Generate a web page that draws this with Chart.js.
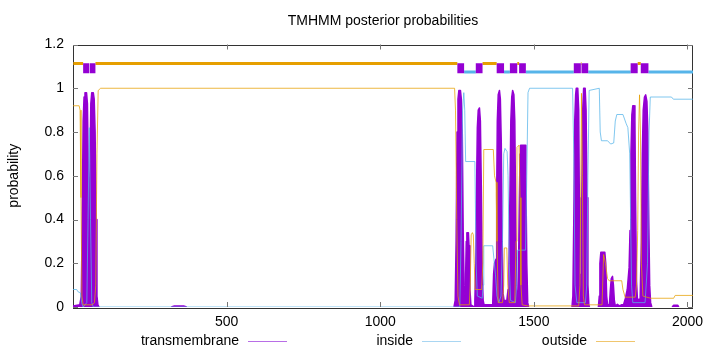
<!DOCTYPE html>
<html>
<head>
<meta charset="utf-8">
<script src="https://cdn.jsdelivr.net/npm/chart.js@4/dist/chart.umd.min.js"></script>
<style>
  html, body { margin: 0; padding: 0; background: #fff; }
  canvas { display: block; }
</style>
</head>
<body>
<canvas id="chart" width="720" height="352"></canvas>
<script>
"use strict";

const SEQ_LEN = 2018;

// Posterior probabilities (residue position -> probability).
const tmPos = [0, 22, 27, 30, 33, 36, 39, 44, 47, 50, 53, 55, 58, 61, 66, 69, 72, 75, 78, 81, 85,
  320, 330, 360, 370,
  1240, 1244, 1247, 1250, 1253, 1256, 1261, 1264, 1267, 1270, 1273, 1276,
  1278, 1280, 1282, 1287, 1289, 1292, 1295, 1306,
  1308, 1311, 1314, 1316, 1319, 1323, 1326, 1329, 1332, 1335, 1338,
  1366, 1369, 1372, 1377, 1379, 1381, 1384, 1388, 1391, 1394, 1397, 1400, 1403,
  1412, 1416, 1419, 1422, 1425, 1428, 1431, 1435, 1438, 1441, 1444, 1447,
  1449, 1452, 1455, 1457, 1472, 1474, 1477, 1480, 1483,
  1624, 1627, 1630, 1633, 1636, 1638, 1643, 1646, 1648, 1650, 1652,
  1654, 1656, 1659, 1662, 1667, 1670, 1673, 1676, 1679, 1681,
  1710, 1713, 1715, 1718, 1731, 1734, 1737, 1740,
  1746, 1749, 1752, 1756, 1759, 1762, 1765, 1772, 1778, 1785,
  1792, 1798, 1804, 1810, 1813, 1816, 1819, 1822, 1826, 1829, 1831, 1834, 1837, 1842,
  1846, 1850, 1853, 1856, 1860, 1864, 1868, 1871, 1874, 1877, 1880, 1884,
  1950, 1955, 1968, 1972, 2018];
const tmProb = [0.005, 0.01, 0.05, 0.4, 0.85, 0.96, 0.98, 0.98, 0.93, 0.6, 0.18, 0.6, 0.93, 0.98, 0.98, 0.95, 0.8, 0.4, 0.05, 0.01, 0,
  0, 0.005, 0.005, 0,
  0, 0.03, 0.3, 0.8, 0.95, 0.99, 0.99, 0.95, 0.8, 0.35, 0.1, 0.05,
  0.15, 0.3, 0.34, 0.34, 0.28, 0.08, 0.01, 0,
  0.03, 0.2, 0.6, 0.82, 0.9, 0.91, 0.85, 0.55, 0.15, 0.03, 0.01,
  0.01, 0.15, 0.2, 0.22, 0.5, 0.85, 0.97, 0.99, 0.95, 0.75, 0.3, 0.06, 0.03,
  0.03, 0.08, 0.2, 0.5, 0.85, 0.96, 0.99, 0.97, 0.85, 0.4, 0.08, 0.03,
  0.05, 0.4, 0.7, 0.74, 0.74, 0.6, 0.2, 0.02, 0,
  0, 0.05, 0.4, 0.85, 0.97, 1.0, 1.0, 0.9, 0.5, 0.15, 0.05,
  0.15, 0.5, 0.9, 1.0, 1.0, 0.9, 0.5, 0.1, 0.01, 0,
  0, 0.05, 0.2, 0.25, 0.25, 0.2, 0.05, 0.01,
  0.01, 0.08, 0.13, 0.14, 0.1, 0.03, 0.005, 0.012, 0.005, 0.01,
  0.01, 0.04, 0.08, 0.18, 0.35, 0.7, 0.88, 0.92, 0.92, 0.85, 0.5, 0.12, 0.04, 0.03,
  0.04, 0.3, 0.7, 0.9, 0.96, 0.97, 0.94, 0.8, 0.4, 0.1, 0.02, 0,
  0, 0.008, 0.008, 0, 0];

const inPos = [0, 12, 16, 24, 28, 33, 45, 49, 53, 57, 61, 66, 1259, 1263, 1268, 1272, 1275, 1278, 1308,
  1312, 1316, 1332, 1335, 1337, 1366, 1370, 1375, 1380, 1386, 1393, 1398, 1402, 1406, 1413, 1416, 1420,
  1424, 1440, 1444, 1447, 1473, 1477, 1481, 1486, 1626, 1630, 1634, 1640, 1668, 1672, 1676, 1680, 1713,
  1716, 1720, 1740, 1750, 1760, 1765, 1770, 1790, 1800, 1806, 1812, 1815, 1818, 1822, 1862, 1870, 1875,
  1879, 1948, 1954, 2018];
const inProb = [0.08, 0.08, 0.07, 0.065, 0.02, 0, 0.02, 0.4, 0.82, 0.4, 0.02, 0, 0, 0.3, 0.9, 0.98, 0.9, 0.665, 0.665,
  0.2, 0.05, 0.04, 0.1, 0.28, 0.28, 0.22, 0.15, 0.05, 0.02, 0.05, 0.3, 0.7, 0.725, 0.71, 0.6, 0.2,
  0.03, 0.02, 0.1, 0.26, 0.26, 0.6, 0.98, 1.0, 1.0, 0.7, 0.1, 0.02, 0.02, 0.1, 0.6, 0.99, 1.0,
  0.8, 0.76, 0.76, 0.745, 0.75, 0.85, 0.88, 0.88, 0.84, 0.82, 0.7, 0.4, 0.1, 0.02, 0.02, 0.2, 0.8,
  0.96, 0.96, 0.95, 0.95];

const outPos = [0, 20, 23, 26, 29, 33, 62, 70, 74, 78, 82, 90, 1242, 1245, 1249, 1253, 1258, 1290, 1293,
  1296, 1300, 1303, 1306, 1309, 1330, 1334, 1337, 1368, 1372, 1377, 1380, 1384, 1398, 1402, 1404, 1412,
  1415, 1420, 1438, 1442, 1445, 1452, 1455, 1458, 1462, 1480, 1646, 1650, 1653, 1655, 1658, 1661, 1665,
  1722, 1727, 1733, 1740, 1745, 1786, 1790, 1797, 1830, 1834, 1838, 1841, 1844, 1847, 1850, 1855, 1880,
  1955, 1960, 2018];
const outProb = [0.92, 0.92, 0.9, 0.5, 0.05, 0.01, 0.01, 0.02, 0.1, 0.7, 0.99, 1.0, 1.0, 0.9, 0.4, 0.05, 0.01, 0.01, 0.1,
  0.33, 0.34, 0.33, 0.2, 0.08, 0.08, 0.2, 0.72, 0.72, 0.6, 0.57, 0.3, 0.02, 0.02, 0.1, 0.27, 0.27,
  0.1, 0.02, 0.02, 0.3, 0.73, 0.74, 0.5, 0.1, 0.01, 0.005, 0.005, 0.1, 0.6, 0.977, 0.6, 0.05, 0.01,
  0.01, 0.24, 0.2, 0.13, 0.12, 0.12, 0.08, 0.045, 0.045, 0.1, 0.35, 0.8, 0.97, 0.8, 0.2, 0.05, 0.04,
  0.04, 0.053, 0.053];

// Predicted topology, [start, end] residue ranges.
const outsideSegs = [[1, 33], [73, 1251], [1333, 1379], [1446, 1452], [1653, 1655], [1838, 1848]];
const insideSegs = [[53, 55], [1273, 1311], [1403, 1422], [1474, 1630], [1677, 1815], [1873, 2018]];
const tmSegs = [[33, 53], [55, 73], [1251, 1273], [1311, 1333], [1379, 1403], [1422, 1446],
  [1452, 1474], [1630, 1653], [1655, 1677], [1815, 1838], [1848, 1873]];

// y levels of the topology strip above the plot
const OUTSIDE_LEVEL = 1.113;
const TM_LEVEL = 1.092;
const INSIDE_LEVEL = 1.074;

const xTicks = [500, 1000, 1500, 2000];
const yTicks = [0, 0.2, 0.4, 0.6, 0.8, 1, 1.2];
const seriesNames = ["transmembrane", "inside", "outside"];

const PURPLE = "#9400d3";
const BLUE = "#56b4e9";
const ORANGE = "#e69f00";
const LEGEND_COLORS = ["#b86ee6", "#a9d6f2", "#f0c66e"];
const FONT = '"Liberation Sans", Arial, sans-serif';

function toPoints(pos, vals) {
  return pos.map((x, i) => ({ x, y: vals[i] }));
}

// flat segments separated by gaps
function segPoints(segs, level) {
  const pts = [];
  for (const [s, e] of segs) {
    pts.push({ x: s, y: level }, { x: e, y: level }, { x: e, y: null });
  }
  return pts;
}

function lineSet(label, data, color, width, extra) {
  return Object.assign({
    label, data, borderColor: color, backgroundColor: color, borderWidth: width,
    pointRadius: 0, tension: 0, spanGaps: false, fill: false,
  }, extra || {});
}

// Border box, inward ticks (mirrored) and the gnuplot-style key.
const frame = {
  id: "frame",
  beforeDatasetsDraw(chart) {
    const { ctx, chartArea: a } = chart;
    ctx.save();
    ctx.strokeStyle = "#333";
    ctx.lineWidth = 1;
    ctx.strokeRect(Math.round(a.left) + 0.5, Math.round(a.top) + 0.5,
      Math.round(a.right - a.left) - 1, Math.round(a.bottom - a.top));
    ctx.restore();
  },
  afterDatasetsDraw(chart) {
    const { ctx, chartArea: a, scales } = chart;
    const len = 5;
    ctx.save();
    ctx.strokeStyle = "#777";
    ctx.lineWidth = 1;
    ctx.beginPath();
    for (const v of xTicks) {
      const px = Math.round(scales.x.getPixelForValue(v)) + 0.5;
      ctx.moveTo(px, a.bottom); ctx.lineTo(px, a.bottom - len);
      ctx.moveTo(px, a.top); ctx.lineTo(px, a.top + len);
    }
    for (const v of yTicks) {
      const py = Math.round(scales.y.getPixelForValue(v)) + 0.5;
      ctx.moveTo(a.left, py); ctx.lineTo(a.left + len, py);
      ctx.moveTo(a.right, py); ctx.lineTo(a.right - len, py);
    }
    ctx.stroke();
    ctx.restore();
  },
  afterDraw(chart) {
    const { ctx } = chart;
    const rights = [239, 413, 587];
    const y = 341;
    ctx.save();
    ctx.font = "14px " + FONT;
    ctx.textAlign = "right";
    ctx.textBaseline = "middle";
    seriesNames.forEach((name, i) => {
      ctx.fillStyle = "#000";
      ctx.fillText(name, rights[i], y);
      ctx.strokeStyle = LEGEND_COLORS[i];
      ctx.lineWidth = 1.2;
      ctx.beginPath();
      ctx.moveTo(rights[i] + 9, y + 0.5);
      ctx.lineTo(rights[i] + 48, y + 0.5);
      ctx.stroke();
    });
    ctx.restore();
  },
};

Chart.defaults.font.family = FONT;
Chart.defaults.font.size = 14;
Chart.defaults.color = "#000";

// no outline where the transmembrane trace lies flat on zero
const flatZero = (c) => (c.p0.parsed.y === 0 && c.p1.parsed.y === 0 ? "rgba(0,0,0,0)" : undefined);

// first dataset is drawn on top
const datasets = [
  lineSet("outside", toPoints(outPos, outProb), "rgba(230,159,0,0.75)", 1),
  lineSet("inside", toPoints(inPos, inProb), "rgba(86,180,233,0.75)", 1),
  lineSet("tm-strip", segPoints(tmSegs, TM_LEVEL), PURPLE, 10),
  lineSet("inside-strip", segPoints(insideSegs, INSIDE_LEVEL), BLUE, 3),
  lineSet("outside-strip", segPoints(outsideSegs, OUTSIDE_LEVEL), ORANGE, 3),
  lineSet("transmembrane", toPoints(tmPos, tmProb), PURPLE, 1.5,
    { fill: "origin", borderJoinStyle: "round", segment: { borderColor: flatZero } }),
];

new Chart(document.getElementById("chart"), {
  type: "line",
  data: { datasets },
  options: {
    responsive: false,
    animation: false,
    devicePixelRatio: 1,
    layout: { padding: { left: 0, right: 27, top: 0, bottom: 0 } },
    plugins: {
      legend: { display: false },
      tooltip: { enabled: false },
      title: {
        display: true,
        text: "TMHMM posterior probabilities",
        fullSize: false,
        font: { size: 14, weight: "normal" },
        color: "#000",
        padding: { top: 13, bottom: 14.7 },
      },
    },
    scales: {
      x: {
        type: "linear",
        min: 0,
        max: SEQ_LEN,
        afterFit: (s) => { s.height = 45; },
        afterBuildTicks: (s) => { s.ticks = xTicks.map((value) => ({ value })); },
        ticks: { padding: 7, maxRotation: 0, autoSkip: false, callback: (v) => String(v) },
        grid: { display: false, drawTicks: false },
        border: { display: false },
      },
      y: {
        min: 0,
        max: 1.2,
        afterFit: (s) => { s.width = 73; },
        afterBuildTicks: (s) => { s.ticks = yTicks.map((value) => ({ value })); },
        ticks: { padding: 9, callback: (v) => String(v) },
        grid: { display: false, drawTicks: false },
        border: { display: false },
        title: { display: true, text: "probability", font: { size: 14 }, padding: { top: 5.6, bottom: 0 } },
      },
    },
  },
  plugins: [frame],
});
</script>
</body>
</html>
